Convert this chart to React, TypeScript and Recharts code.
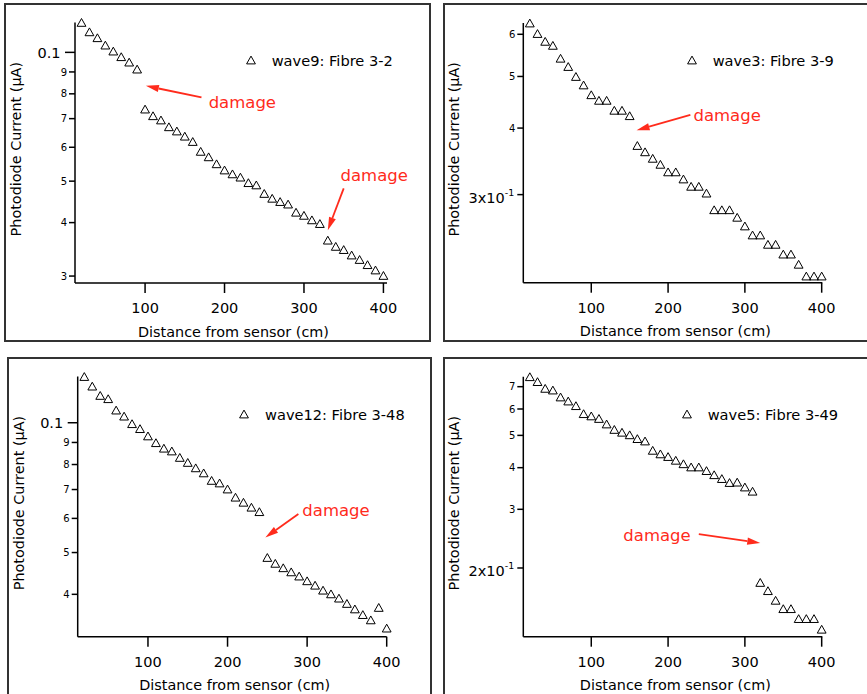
import React from 'react';
import { ScatterChart, Scatter, XAxis, YAxis, ReferenceLine, ReferenceDot, Legend } from 'recharts';

const FONT = '"DejaVu Sans", sans-serif';
const RED = '#ff2b1c';

// distance from sensor (cm), shared by all four waves
const distance = [20, 30, 40, 50, 60, 70, 80, 90, 100, 110, 120, 130, 140, 150, 160, 170, 180, 190, 200, 210, 220, 230, 240, 250, 260, 270, 280, 290, 300, 310, 320, 330, 340, 350, 360, 370, 380, 390, 400];

// photodiode current (uA)
const wave9 = [0.1175, 0.1117, 0.1082, 0.104, 0.1007, 0.0977, 0.0949, 0.0914, 0.0737, 0.0711, 0.0695, 0.067, 0.0655, 0.0637, 0.0619, 0.0587, 0.057, 0.0549, 0.0531, 0.052, 0.0511, 0.0496, 0.049, 0.0468, 0.0456, 0.0448, 0.0442, 0.0423, 0.0416, 0.0406, 0.0398, 0.0364, 0.0352, 0.0346, 0.0336, 0.0328, 0.0319, 0.031, 0.0301];
const wave3 = [0.63, 0.602, 0.582, 0.572, 0.541, 0.522, 0.5, 0.482, 0.462, 0.451, 0.451, 0.432, 0.432, 0.422, 0.371, 0.361, 0.351, 0.342, 0.331, 0.331, 0.321, 0.311, 0.311, 0.302, 0.281, 0.281, 0.281, 0.272, 0.262, 0.252, 0.252, 0.242, 0.242, 0.232, 0.232, 0.222, 0.211, 0.211, 0.211];
const wave12 = [0.128, 0.1216, 0.1157, 0.1137, 0.107, 0.1036, 0.0995, 0.0969, 0.0932, 0.0899, 0.0873, 0.086, 0.0831, 0.0809, 0.0786, 0.0765, 0.0735, 0.0725, 0.0702, 0.0672, 0.0654, 0.0637, 0.0622, 0.0487, 0.0472, 0.0461, 0.0451, 0.0441, 0.043, 0.042, 0.0409, 0.0401, 0.0392, 0.0381, 0.037, 0.0359, 0.0349, 0.0373, 0.0334];
const wave5 = [0.75, 0.725, 0.692, 0.684, 0.652, 0.634, 0.614, 0.581, 0.572, 0.562, 0.541, 0.521, 0.511, 0.502, 0.489, 0.481, 0.451, 0.44, 0.432, 0.421, 0.411, 0.402, 0.402, 0.392, 0.381, 0.371, 0.361, 0.362, 0.35, 0.34, 0.181, 0.171, 0.16, 0.151, 0.151, 0.141, 0.141, 0.141, 0.131];

const xTicks = [100, 200, 300, 400];

const ticks9 = [0.03, 0.04, 0.05, 0.06, 0.07, 0.08, 0.09, 0.1];
const labels9 = ['3', '4', '5', '6', '7', '8', '9', '0.1'];
const ticks3 = [0.3, 0.4, 0.5, 0.6];
const labels3 = ['3x10^-1', '4', '5', '6'];
const ticks12 = [0.04, 0.05, 0.06, 0.07, 0.08, 0.09, 0.1];
const labels12 = ['4', '5', '6', '7', '8', '9', '0.1'];
const ticks5 = [0.2, 0.3, 0.4, 0.5, 0.6, 0.7];
const labels5 = ['2x10^-1', '3', '4', '5', '6', '7'];

// damage notes in data coords: arrow tail, arrow tip, text anchor
const damage9 = [
  { from: [171, 0.0785], to: [101, 0.0835], at: [180, 0.0766] },
  { from: [350, 0.0481], to: [330, 0.0384], at: [346, 0.0515] },
];
const damage3 = [{ from: [229, 0.4233], to: [159, 0.3963], at: [233, 0.4233] }];
const damage12 = [{ from: [289, 0.0614], to: [247.5, 0.0542], at: [294, 0.0627] }];
const damage5 = [{ from: [240, 0.2529], to: [320, 0.2376], at: [141.7, 0.251] }];

const axisStroke = { stroke: '#000', strokeWidth: 1.5 };

const triangle = (props: any) => {
  const { cx, cy } = props;
  return (
    <polygon
      points={`${cx},${cy - 3.9} ${cx + 4.4},${cy + 3.9} ${cx - 4.4},${cy + 3.9}`}
      fill="none"
      stroke="#000"
      strokeWidth={1}
    />
  );
};

const arrow = (props: any) => {
  const { x1, y1, x2, y2 } = props;
  const len = Math.hypot(x2 - x1, y2 - y1) || 1;
  const ux = (x2 - x1) / len;
  const uy = (y2 - y1) / len;
  const bx = x2 - ux * 13;
  const by = y2 - uy * 13;
  const hw = 3.6;
  return (
    <g>
      <line x1={x1} y1={y1} x2={bx} y2={by} stroke={RED} strokeWidth={1.8} />
      <polygon points={`${x2},${y2} ${bx - uy * hw},${by + ux * hw} ${bx + uy * hw},${by - ux * hw}`} fill={RED} />
    </g>
  );
};

const damageText = (props: any) => (
  <text x={props.cx} y={props.cy} dy="0.35em" fill={RED} fontSize={16.5} fontFamily={FONT}>
    damage
  </text>
);

function makeYTick(ticks: number[], labels: string[]) {
  return function YTick(props: any) {
    const { x, y, payload } = props;
    const v = payload.value;
    const i = ticks.findIndex((t) => Math.abs(t - v) < 1e-9);
    const label = i >= 0 ? labels[i] : '';
    const lg = Math.log10(v);
    const len = Math.abs(lg - Math.round(lg)) < 1e-6 ? 10 : 6;
    let text;
    if (label.includes('^')) {
      const [base, exp] = label.split('^');
      text = (
        <text x={x - len - 3} y={y + 8} textAnchor="end" fontSize={14.5} fontFamily={FONT} fill="#000">
          {base}
          <tspan dy={-7} fontSize={9.5}>{exp}</tspan>
        </text>
      );
    } else {
      const big = label.length > 1;
      text = (
        <text x={x - len - (big ? 4.5 : 2)} y={y} dy="0.36em" textAnchor="end" fontSize={big ? 14.5 : 10} fontFamily={FONT} fill="#000">
          {label}
        </text>
      );
    }
    return (
      <g>
        <line x1={x - len} y1={y} x2={x} y2={y} stroke="#000" strokeWidth={1.5} />
        {text}
      </g>
    );
  };
}

const xTitle = (props: any) => {
  const vb = props.viewBox;
  return (
    <text x={vb.x + vb.width / 2 + 2.5} y={vb.y + 48.5} dy="0.35em" textAnchor="middle" fontSize={14.4} fontFamily={FONT} fill="#000">
      Distance from sensor (cm)
    </text>
  );
};

const yTitle = (cx: number) => (props: any) => {
  const vb = props.viewBox;
  const x = vb.x + cx;
  const y = vb.y + vb.height / 2 - 3.5;
  return (
    <text x={x} y={y} dy="0.35em" transform={`rotate(-90 ${x} ${y})`} textAnchor="middle" fontSize={14.4} fontFamily={FONT} fill="#000">
      Photodiode Current (μA)
    </text>
  );
};

const legendContent = (props: any) => {
  const name = props.payload && props.payload[0] ? props.payload[0].value : '';
  return (
    <div style={{ display: 'flex', alignItems: 'center', height: 20, fontFamily: FONT, fontSize: 14.6, whiteSpace: 'nowrap', color: '#000' }}>
      <svg width={10} height={10} style={{ overflow: 'visible', flex: 'none' }}>
        <polygon points="5,1.1 9.4,8.9 0.6,8.9" fill="none" stroke="#000" strokeWidth={1} />
      </svg>
      <span style={{ marginLeft: 16 }}>{name}</span>
    </div>
  );
};

type Note = { from: number[]; to: number[]; at: number[] };

function Panel(p: {
  name: string;
  values: number[];
  yTicks: number[];
  yLabels: string[];
  xDomain: number[];
  yDomain: number[];
  notes: Note[];
  left: number;
  top: number;
  width: number;
  height: number;
  marginTop: number;
  marginRight: number;
  yAxisWidth: number;
  xAxisHeight: number;
  titleX: number;
  legendX: number;
  legendY: number;
}) {
  const data = distance.map((x, i) => ({ x, y: p.values[i] }));
  return (
    <div style={{ position: 'absolute', left: p.left, top: p.top }}>
      <ScatterChart width={p.width} height={p.height} margin={{ top: p.marginTop, right: p.marginRight, bottom: 0, left: 0 }}>
        <XAxis
          type="number"
          dataKey="x"
          scale="linear"
          domain={p.xDomain}
          ticks={xTicks}
          interval={0}
          height={p.xAxisHeight}
          tickSize={10}
          tickMargin={10}
          axisLine={axisStroke}
          tickLine={axisStroke}
          tick={{ fontSize: 14.5, fill: '#000', fontFamily: FONT }}
          label={xTitle}
        />
        <YAxis
          type="number"
          dataKey="y"
          scale="log"
          domain={p.yDomain}
          ticks={p.yTicks}
          interval={0}
          width={p.yAxisWidth}
          tickSize={0}
          tickMargin={0}
          tickLine={false}
          axisLine={axisStroke}
          tick={makeYTick(p.yTicks, p.yLabels)}
          label={yTitle(p.titleX)}
        />
        <Legend
          layout="vertical"
          align="center"
          verticalAlign="middle"
          wrapperStyle={{ left: p.legendX - 5, top: p.legendY - 10 }}
          content={legendContent}
        />
        <Scatter name={p.name} data={data} shape={triangle} isAnimationActive={false} />
        {p.notes.map((n, i) => (
          <ReferenceLine
            key={'a' + i}
            segment={[{ x: n.from[0], y: n.from[1] }, { x: n.to[0], y: n.to[1] }]}
            ifOverflow="visible"
            shape={arrow}
          />
        ))}
        {p.notes.map((n, i) => (
          <ReferenceDot key={'t' + i} x={n.at[0]} y={n.at[1]} r={0} ifOverflow="visible" shape={damageText} />
        ))}
      </ScatterChart>
    </div>
  );
}

const box = (left: number, top: number, width: number, height: number) => (
  <div style={{ position: 'absolute', left, top, width, height, boxSizing: 'border-box', border: '2px solid #333' }} />
);

export default function App() {
  return (
    <div style={{ position: 'absolute', left: 0, top: 0, width: 867, height: 694, overflow: 'hidden', background: '#fff' }}>
      {box(4, 3, 427, 339)}
      {box(443, 3, 430, 339)}
      {box(7, 357, 425, 345)}
      {box(443, 357, 430, 345)}
      <Panel
        name="wave9: Fibre 3-2"
        values={wave9}
        yTicks={ticks9}
        yLabels={labels9}
        xDomain={[11.8, 404.5]}
        yDomain={[0.0289, 0.1175]}
        notes={damage9}
        left={0}
        top={0}
        width={434}
        height={345}
        marginTop={22.4}
        marginRight={47}
        yAxisWidth={75}
        xAxisHeight={62}
        titleX={16.3}
        legendX={250.7}
        legendY={60}
      />
      <Panel
        name="wave3: Fibre 3-9"
        values={wave3}
        yTicks={ticks3}
        yLabels={labels3}
        xDomain={[11.5, 400.8]}
        yDomain={[0.205, 0.63]}
        notes={damage3}
        left={434}
        top={0}
        width={433}
        height={345}
        marginTop={23}
        marginRight={44.7}
        yAxisWidth={89.3}
        xAxisHeight={62.3}
        titleX={20.3}
        legendX={257.7}
        legendY={60.3}
      />
      <Panel
        name="wave12: Fibre 3-48"
        values={wave12}
        yTicks={ticks12}
        yLabels={labels12}
        xDomain={[11.7, 400]}
        yDomain={[0.0319, 0.128]}
        notes={damage12}
        left={0}
        top={345}
        width={434}
        height={349}
        marginTop={31.5}
        marginRight={47.3}
        yAxisWidth={77.7}
        xAxisHeight={57.3}
        titleX={18.8}
        legendX={244}
        legendY={69.3}
      />
      <Panel
        name="wave5: Fibre 3-49"
        values={wave5}
        yTicks={ticks5}
        yLabels={labels5}
        xDomain={[11.5, 400.8]}
        yDomain={[0.1244, 0.75]}
        notes={damage5}
        left={434}
        top={345}
        width={433}
        height={349}
        marginTop={31.7}
        marginRight={44.7}
        yAxisWidth={89.3}
        xAxisHeight={57.3}
        titleX={20.3}
        legendX={252.7}
        legendY={69.3}
      />
    </div>
  );
}
